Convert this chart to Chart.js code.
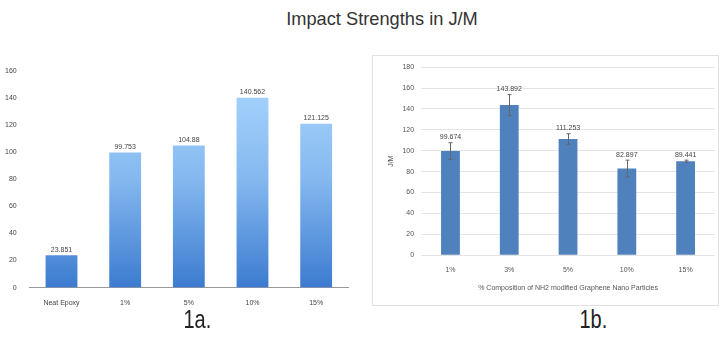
<!DOCTYPE html>
<html>
<head>
<meta charset="utf-8">
<script src="https://cdn.jsdelivr.net/npm/chart.js@4"></script>
<style>
  body { margin: 0; background: #fff; width: 722px; height: 343px; position: relative; overflow: hidden; font-family: "Liberation Sans", Arial, sans-serif; }
  #title { position: absolute; left: 0; width: 764px; top: 8px; text-align: center; font-size: 19px; color: #333; transform: scaleX(0.96); transform-origin: 382px 0; }
  .cap { position: absolute; top: 305px; font-size: 25px; color: #222; transform: scaleX(0.8); }
  #wrapA { position: absolute; left: 0; top: 60px; width: 360px; height: 250px; }
  #boxB { position: absolute; left: 372px; top: 55px; width: 345px; height: 249px; border: 1px solid #e2e2e2; }
  #wrapB { position: absolute; left: 0; top: 0; width: 345px; height: 249px; }
</style>
</head>
<body>
<div id="title">Impact Strengths in J/M</div>
<div id="wrapA"><canvas id="chartA"></canvas></div>
<div id="boxB"><div id="wrapB"><canvas id="chartB"></canvas></div></div>
<div class="cap" style="left:180px">1a.</div>
<div class="cap" style="left:576px">1b.</div>
<script>
// chart 1a
const categoriesA = ['Neat Epoxy', '1%', '5%', '10%', '15%'];
const valuesA = [23.9, 99.8, 104.9, 140.3, 121.1];
const labelsA = ['23.851', '99.753', '104.88', '140.562', '121.125'];
const ticksA = [0, 20, 40, 60, 80, 100, 120, 140, 160];

// chart 1b
const categoriesB = ['1%', '3%', '5%', '10%', '15%'];
const valuesB = [99.7, 143.7, 111.3, 83.0, 90.0];
const errorsB = [8, 10, 5, 8, 1];
const labelsB = ['99.674', '143.892', '111.253', '82.897', '89.441'];
const ticksB = [0, 20, 40, 60, 80, 100, 120, 140, 160, 180];

const tickFont = { family: 'Liberation Sans', size: 7 };

const valueLabels = {
    id: 'valueLabels',
    afterDatasetsDraw(chart, args, opts) {
        const ctx = chart.ctx;
        const meta = chart.getDatasetMeta(0);
        const y = chart.scales.y;
        ctx.save();
        ctx.font = '7px Liberation Sans';
        ctx.fillStyle = '#444';
        ctx.textAlign = 'center';
        ctx.textBaseline = 'bottom';
        meta.data.forEach((bar, i) => {
            let top = bar.y;
            if (opts.errors) top = y.getPixelForValue(chart.data.datasets[0].data[i] + opts.errors[i]);
            ctx.fillText(opts.labels[i], bar.x, top - 2);
        });
        ctx.restore();
    }
};

const errorBars = {
    id: 'errorBars',
    afterDatasetsDraw(chart, args, opts) {
        if (!opts.errors) return;
        const ctx = chart.ctx;
        const meta = chart.getDatasetMeta(0);
        const y = chart.scales.y;
        const data = chart.data.datasets[0].data;
        ctx.save();
        ctx.strokeStyle = '#666';
        ctx.lineWidth = 1;
        meta.data.forEach((bar, i) => {
            const hi = y.getPixelForValue(data[i] + opts.errors[i]);
            const lo = y.getPixelForValue(data[i] - opts.errors[i]);
            const x = Math.round(bar.x) + 0.5;
            ctx.beginPath();
            ctx.moveTo(x, hi); ctx.lineTo(x, lo);
            ctx.moveTo(x - 2, hi); ctx.lineTo(x + 2, hi);
            ctx.moveTo(x - 2, lo); ctx.lineTo(x + 2, lo);
            ctx.stroke();
        });
        ctx.restore();
    }
};

function gradientFill(context) {
    const area = context.chart.chartArea;
    if (!area) return '#7fb2ea';
    const g = context.chart.ctx.createLinearGradient(0, area.top, 0, area.bottom);
    g.addColorStop(0, '#acd8ff');
    g.addColorStop(0.5, '#84b8ef');
    g.addColorStop(1, '#3c7bd0');
    return g;
}

new Chart(document.getElementById('chartA'), {
    type: 'bar',
    data: {
        labels: categoriesA,
        datasets: [{ data: valuesA, backgroundColor: gradientFill, barPercentage: 0.5, categoryPercentage: 1 }]
    },
    options: {
        responsive: true,
        maintainAspectRatio: false,
        animation: false,
        layout: { padding: { left: 0, right: 12, top: 11, bottom: 0 } },
        plugins: {
            legend: { display: false },
            tooltip: { enabled: false },
            valueLabels: { labels: labelsA },
            errorBars: {}
        },
        scales: {
            x: {
                grid: { display: false },
                border: { display: true, color: '#999' },
                ticks: { font: tickFont, color: '#444', maxRotation: 0, padding: 3 }
            },
            y: {
                min: 0, max: 160,
                afterBuildTicks: s => { s.ticks = ticksA.map(v => ({ value: v })); },
                grid: { display: false },
                border: { display: false },
                ticks: { font: tickFont, color: '#444', padding: 5 }
            }
        }
    },
    plugins: [valueLabels, errorBars]
});

new Chart(document.getElementById('chartB'), {
    type: 'bar',
    data: {
        labels: categoriesB,
        datasets: [{ data: valuesB, backgroundColor: '#4f81bd', barPercentage: 0.32, categoryPercentage: 1 }]
    },
    options: {
        responsive: true,
        maintainAspectRatio: false,
        animation: false,
        layout: { padding: { left: 14, right: 3, top: 8, bottom: 9 } },
        plugins: {
            legend: { display: false },
            tooltip: { enabled: false },
            valueLabels: { labels: labelsB, errors: errorsB },
            errorBars: { errors: errorsB }
        },
        scales: {
            x: {
                grid: { display: false },
                border: { display: false },
                ticks: { font: tickFont, color: '#555', maxRotation: 0, padding: 3 },
                title: { display: true, text: '% Composition of NH2 modified Graphene Nano Particles', font: { family: 'Liberation Sans', size: 7 }, color: '#555', padding: { top: 6 } }
            },
            y: {
                min: 0, max: 180,
                afterBuildTicks: s => { s.ticks = ticksB.map(v => ({ value: v })); },
                grid: { color: '#e4e4e4', drawTicks: false },
                border: { display: false },
                ticks: { font: tickFont, color: '#555', padding: 7 },
                title: { display: true, text: 'J/M', font: { family: 'Liberation Sans', size: 7 }, color: '#555', padding: 0 }
            }
        }
    },
    plugins: [valueLabels, errorBars]
});
</script>
</body>
</html>
